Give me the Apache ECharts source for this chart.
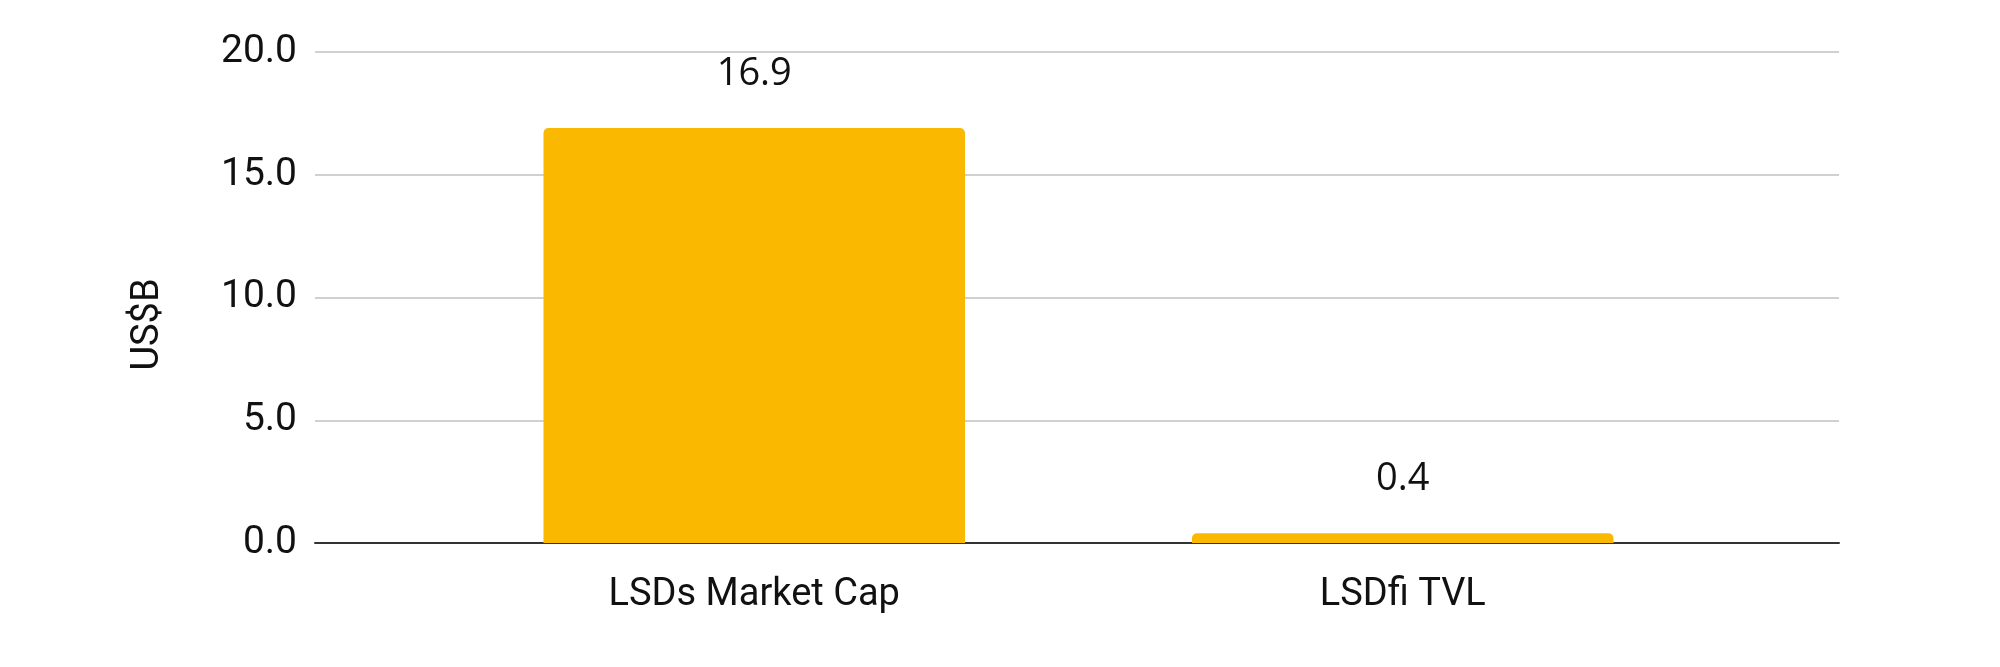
<!DOCTYPE html>
<html>
<head>
<meta charset="utf-8">
<script src="https://cdn.jsdelivr.net/npm/echarts@6/dist/echarts.min.js"></script>
<style>
html,body{margin:0;padding:0;background:#fff;}
#chart{width:2000px;height:667px;}
</style>
</head>
<body>
<div id="chart"></div>
<script>
const categories = ["LSDs Market Cap", "LSDfi TVL"];
const values = [16.9, 0.4];
const yTicks = { min: 0, max: 20, interval: 5 };
const yAxisName = "US$B";

const axisFont = "Roboto, 'Liberation Sans', Arial, sans-serif";
const labelFont = "'Open Sans', 'Noto Sans', sans-serif";

const chart = echarts.init(document.getElementById('chart'), null, { renderer: 'canvas' });
chart.setOption({
  backgroundColor: '#ffffff',
  animation: false,
  grid: [
    { left: 315, right: 161, top: 52, bottom: 124, containLabel: false },
    { left: 430, right: 273, top: 52, bottom: 124, containLabel: false }
  ],
  xAxis: [
    {
      gridIndex: 0, type: 'category', data: categories,
      axisLine: { show: true, lineStyle: { color: '#333333', width: 2 } },
      axisTick: { show: false }, axisLabel: { show: false }, splitLine: { show: false }
    },
    {
      gridIndex: 1, type: 'category', data: categories,
      axisLine: { show: false }, axisTick: { show: false },
      axisLabel: { show: true, color: '#111111', fontSize: 38, fontFamily: axisFont, margin: 33 }
    }
  ],
  yAxis: [
    {
      gridIndex: 0, type: 'value', min: yTicks.min, max: yTicks.max, interval: yTicks.interval,
      name: yAxisName, nameLocation: 'middle', nameRotate: 90, nameGap: 148,
      nameTextStyle: { color: '#111111', fontSize: 38, fontFamily: axisFont, padding: [0, 54, 0, 0] },
      axisLine: { show: false }, axisTick: { show: false },
      axisLabel: { color: '#111111', fontSize: 39, fontFamily: axisFont, margin: 18,
        formatter: v => v.toFixed(1) },
      splitLine: { show: true, lineStyle: { color: '#d0d0d0', width: 2 } }
    },
    {
      gridIndex: 1, type: 'value', min: yTicks.min, max: yTicks.max, interval: yTicks.interval,
      show: false, splitLine: { show: false }
    }
  ],
  series: [
    {
      type: 'bar', xAxisIndex: 1, yAxisIndex: 1, data: values,
      barWidth: '65%',
      itemStyle: { color: '#fbb800', borderRadius: [5, 5, 0, 0] },
      label: {
        show: true, position: 'top', distance: 35, color: '#111111',
        fontSize: 38, fontFamily: labelFont, formatter: p => p.value.toFixed(1)
      },
      z: 1
    }
  ]
});
</script>
</body>
</html>
